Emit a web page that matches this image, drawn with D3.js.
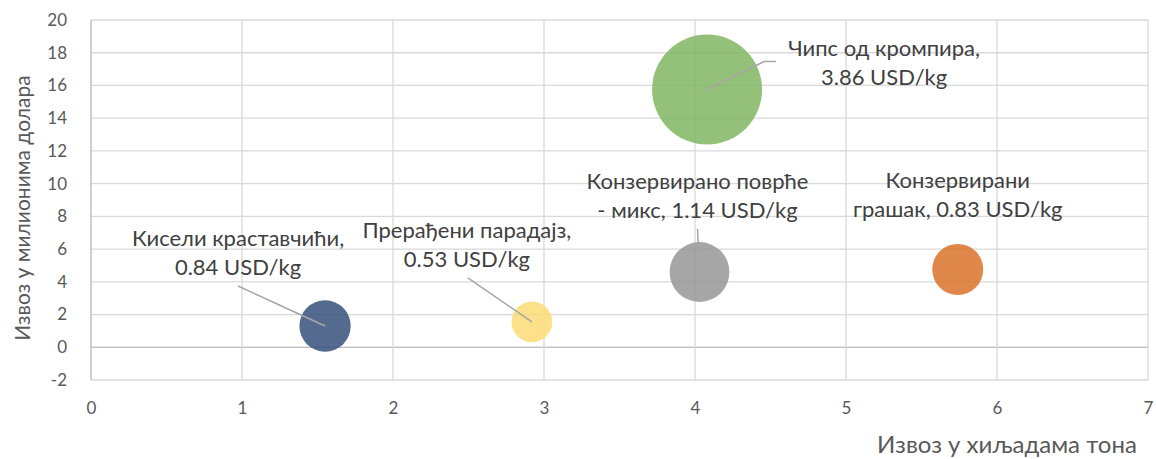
<!DOCTYPE html>
<html>
<head>
<meta charset="utf-8">
<script src="https://cdn.jsdelivr.net/npm/d3@7"></script>
<style>
  html, body { margin: 0; padding: 0; background: #fff; }
  svg { display: block; font-family: Lato, "Open Sans", sans-serif; }
</style>
</head>
<body>
<svg id="chart" width="1156" height="459"></svg>
<script>
// ---- data ----
const products = ["Кисели краставчићи", "Прерађени парадајз", "Конзервирано поврће - микс", "Чипс од кромпира", "Конзервирани грашак"];
const labelLines = [
  ["Кисели краставчићи,", "0.84 USD/kg"],
  ["Прерађени парадајз,", "0.53 USD/kg"],
  ["Конзервирано поврће", "- микс, 1.14 USD/kg"],
  ["Чипс од кромпира,", "3.86 USD/kg"],
  ["Конзервирани", "грашак, 0.83 USD/kg"]
];
const volumeKt = [1.55, 2.92, 4.03, 4.08, 5.74];      // export, thousand tonnes
const valueMUSD = [1.30, 1.55, 4.60, 15.75, 4.76];    // export, million USD
const priceUSDkg = [0.84, 0.53, 1.14, 3.86, 0.83];    // bubble size
const xTicks = [0, 1, 2, 3, 4, 5, 6, 7];
const yTicks = [-2, 0, 2, 4, 6, 8, 10, 12, 14, 16, 18, 20];
const xTitle = "Извоз у хиљадама тона";
const yTitle = "Извоз у милионима долара";

// ---- styling / layout ----
const colors = ["#36507a", "#fcda75", "#969696", "#80b663", "#da732a"];
// label placement relative to bubble centre (px)
const labelOffset = [
  {dx: -87, dy: -80, lx: -87, ly: -40},
  {dx: -65, dy: -84, lx: -64, ly: -44},
  {dx: -2,  dy: -83, lx: -2,  ly: -43},
  {dx: 177, dy: -34, lx: 69,  ly: -28, elbow: 57},
  {dx: 0,   dy: -81, lx: null}
];
const margin = {left: 91, right: 8, top: 20, bottom: 79};
const W = 1156, H = 459;
const textColor = "#595959";
const fmt = d => String(d);

const svg = d3.select("#chart");
const x = d3.scaleLinear().domain([0, 7]).range([margin.left, W - margin.right]);
const y = d3.scaleLinear().domain([-2, 20]).range([H - margin.bottom, margin.top]);
const r = d3.scaleSqrt().domain([0, 3.86]).range([0, 55]);

// gridlines
svg.append("g").selectAll("line").data(yTicks).join("line")
  .attr("x1", x(0)).attr("x2", x(7))
  .attr("y1", d => y(d)).attr("y2", d => y(d))
  .attr("stroke", d => d === 0 ? "#c4c4c4" : "#d9d9d9").attr("stroke-width", d => d === 0 ? 1.6 : 1.3);
svg.append("g").selectAll("line").data(xTicks).join("line")
  .attr("y1", y(-2)).attr("y2", y(20))
  .attr("x1", d => x(d)).attr("x2", d => x(d))
  .attr("stroke", d => d === 0 ? "#c4c4c4" : "#d9d9d9").attr("stroke-width", d => d === 0 ? 1.6 : 1.3);

// axes tick labels via d3 axes
const yAxis = svg.append("g").attr("transform", `translate(${x(0) - 24},0)`)
  .call(d3.axisLeft(y).tickValues(yTicks).tickFormat(fmt).tickSize(0).tickPadding(0));
yAxis.select(".domain").remove();
yAxis.selectAll("text").attr("fill", textColor).style("font-size", "17px").style("font-family", "Lato, sans-serif");

const xAxis = svg.append("g").attr("transform", `translate(0,${y(-2) + 22})`)
  .call(d3.axisBottom(x).tickValues(xTicks).tickFormat(fmt).tickSize(0).tickPadding(0));
xAxis.select(".domain").remove();
xAxis.selectAll("text").attr("fill", textColor).style("font-size", "17px").style("font-family", "Lato, sans-serif");

// axis titles
svg.append("text").attr("transform", `translate(30,${(y(20) + y(-2)) / 2 + 8}) rotate(-90)`)
  .attr("text-anchor", "middle").attr("fill", textColor).style("font-size", "21px").text(yTitle);
svg.append("text").attr("x", 1007).attr("y", 453)
  .attr("text-anchor", "middle").attr("fill", textColor).style("font-size", "24px").text(xTitle);

// bubbles
const data = products.map((p, i) => ({p, x: volumeKt[i], y: valueMUSD[i], s: priceUSDkg[i], c: colors[i], lines: labelLines[i], o: labelOffset[i]}));
svg.append("g").selectAll("circle").data(data).join("circle")
  .attr("cx", d => x(d.x)).attr("cy", d => y(d.y)).attr("r", d => r(d.s))
  .attr("fill", d => d.c).attr("fill-opacity", 0.85);

// leader lines
svg.append("g").selectAll("polyline").data(data.filter(d => d.o.lx !== null)).join("polyline")
  .attr("points", d => {
    const cx = x(d.x), cy = y(d.y);
    const pts = [];
    if (d.o.elbow !== undefined) pts.push([cx + d.o.lx, cy + d.o.ly]);
    pts.push([cx + (d.o.elbow !== undefined ? d.o.elbow : d.o.lx), cy + d.o.ly]);
    pts.push([cx, cy]);
    return pts.map(p => p.join(",")).join(" ");
  })
  .attr("fill", "none").attr("stroke", "#a6a6a6").attr("stroke-width", 1.5);

// labels
const lbl = svg.append("g").selectAll("text").data(data).join("text")
  .attr("text-anchor", "middle").attr("fill", "#404040").style("font-size", "22px")
  .attr("x", d => x(d.x) + d.o.dx).attr("y", d => y(d.y) + d.o.dy);
lbl.selectAll("tspan").data(d => d.lines.map(t => ({t, d}))).join("tspan")
  .attr("x", e => x(e.d.x) + e.d.o.dx).attr("dy", (e, i) => i === 0 ? 0 : 29).text(e => e.t);
</script>
</body>
</html>
